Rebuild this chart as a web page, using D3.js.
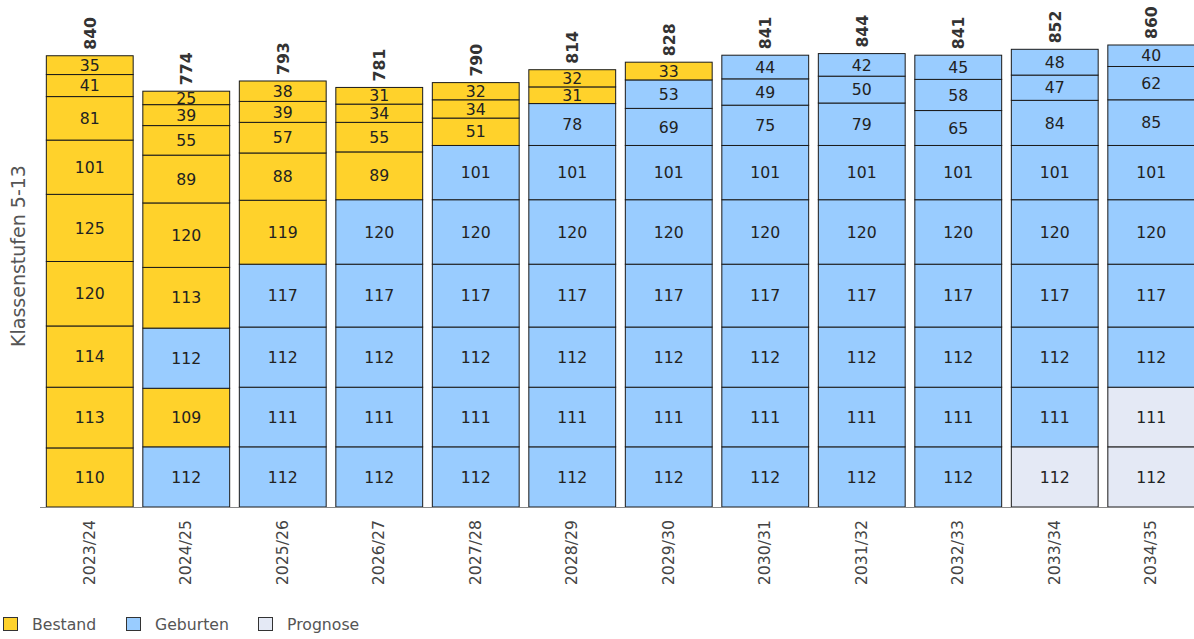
<!DOCTYPE html>
<html>
<head>
<meta charset="utf-8">
<script src="https://cdn.jsdelivr.net/npm/d3@7"></script>
<style>
  html, body { margin: 0; padding: 0; background: #fff; }
  svg { display: block; font-family: "DejaVu Sans", sans-serif; }
</style>
</head>
<body>
<svg id="chart" width="1194" height="639"></svg>
<script>
// Data: values per school year, grades 5 (bottom) .. 13 (top)
const years = ["2023/24","2024/25","2025/26","2026/27","2027/28","2028/29","2029/30","2030/31","2031/32","2032/33","2033/34","2034/35"];
const grades = ["5","6","7","8","9","10","11","12","13"];
const values = [
  [110,113,114,120,125,101,81,41,35],
  [112,109,112,113,120,89,55,39,25],
  [112,111,112,117,119,88,57,39,38],
  [112,111,112,117,120,89,55,34,31],
  [112,111,112,117,120,101,51,34,32],
  [112,111,112,117,120,101,78,31,32],
  [112,111,112,117,120,101,69,53,33],
  [112,111,112,117,120,101,75,49,44],
  [112,111,112,117,120,101,79,50,42],
  [112,111,112,117,120,101,65,58,45],
  [112,111,112,117,120,101,84,47,48],
  [112,111,112,117,120,101,85,62,40]
];
// Source category per segment: B = Bestand, G = Geburten, P = Prognose
const sources = [
  ["B","B","B","B","B","B","B","B","B"],
  ["G","B","G","B","B","B","B","B","B"],
  ["G","G","G","G","B","B","B","B","B"],
  ["G","G","G","G","G","B","B","B","B"],
  ["G","G","G","G","G","G","B","B","B"],
  ["G","G","G","G","G","G","G","B","B"],
  ["G","G","G","G","G","G","G","G","B"],
  ["G","G","G","G","G","G","G","G","G"],
  ["G","G","G","G","G","G","G","G","G"],
  ["G","G","G","G","G","G","G","G","G"],
  ["P","G","G","G","G","G","G","G","G"],
  ["P","P","G","G","G","G","G","G","G"]
];
const legendKeys = ["B","G","P"];
const legendLabels = ["Bestand","Geburten","Prognose"];
const colorsList = ["#FFD22B","#99CCFF","#E4E9F5"];

const FS = 15.7;
const svg = d3.select("#chart");
const color = d3.scaleOrdinal().domain(legendKeys).range(colorsList);

const x = d3.scaleBand().domain(years).range([41.5, 1199.5]).paddingInner(0.1).paddingOuter(0.05);
const y = d3.scaleLinear().domain([0, 860]).range([507, 45]);

// Build stacked segments
const segs = [];
years.forEach((yr, i) => {
  let acc = 0;
  values[i].forEach((v, g) => {
    segs.push({year: yr, grade: grades[g], v, y0: acc, y1: acc + v, src: sources[i][g]});
    acc += v;
  });
});
const totals = years.map((yr, i) => ({year: yr, total: d3.sum(values[i])}));

const gBars = svg.append("g");
gBars.selectAll("rect").data(segs).join("rect")
  .attr("x", d => x(d.year))
  .attr("width", x.bandwidth())
  .attr("y", d => y(d.y1))
  .attr("height", d => y(d.y0) - y(d.y1))
  .attr("fill", d => color(d.src))
  .attr("stroke", "#1a1a1a")
  .attr("stroke-width", 1);

gBars.selectAll("text.seg").data(segs).join("text")
  .attr("class", "seg")
  .attr("x", d => x(d.year) + x.bandwidth() / 2)
  .attr("y", d => (y(d.y0) + y(d.y1)) / 2)
  .attr("dy", "0.36em")
  .attr("text-anchor", "middle")
  .attr("font-size", FS)
  .attr("fill", "#222")
  .text(d => d.v);

// Totals
svg.append("g").selectAll("text").data(totals).join("text")
  .attr("transform", d => `translate(${x(d.year) + x.bandwidth() / 2 + 6},${y(d.total) - 6}) rotate(-90)`)
  .attr("text-anchor", "start")
  .attr("font-size", FS)
  .attr("font-weight", "bold")
  .attr("fill", "#333")
  .text(d => d.total);

// X axis
const xAxis = svg.append("g").attr("transform", "translate(0,507)")
  .call(d3.axisBottom(x).tickSize(0).tickPadding(0));
xAxis.select(".domain").attr("stroke", "#888").attr("d", "M40,0.5H1194");
xAxis.selectAll(".tick text")
  .attr("transform", "translate(5,13) rotate(-90)")
  .attr("text-anchor", "end")
  .attr("dy", 0)
  .attr("y", 0)
  .attr("x", 0)
  .attr("font-size", FS)
  .attr("font-family", "DejaVu Sans, sans-serif")
  .attr("fill", "#444");

// Y title
svg.append("text")
  .attr("transform", "translate(25,256) rotate(-90)")
  .attr("text-anchor", "middle")
  .attr("font-size", 19)
  .attr("fill", "#555")
  .text("Klassenstufen 5-13");

// Legend
const legX = [3, 126, 258];
const leg = svg.append("g").selectAll("g").data(legendKeys).join("g")
  .attr("transform", (d, i) => `translate(${legX[i]},617)`);
leg.append("rect").attr("x", 0.5).attr("y", 0.5).attr("width", 14).attr("height", 13)
  .attr("fill", d => color(d)).attr("stroke", "#333").attr("stroke-width", 1);
leg.append("text").attr("x", 29).attr("y", 13).attr("font-size", FS).attr("fill", "#555")
  .text((d, i) => legendLabels[i]);
</script>
</body>
</html>
